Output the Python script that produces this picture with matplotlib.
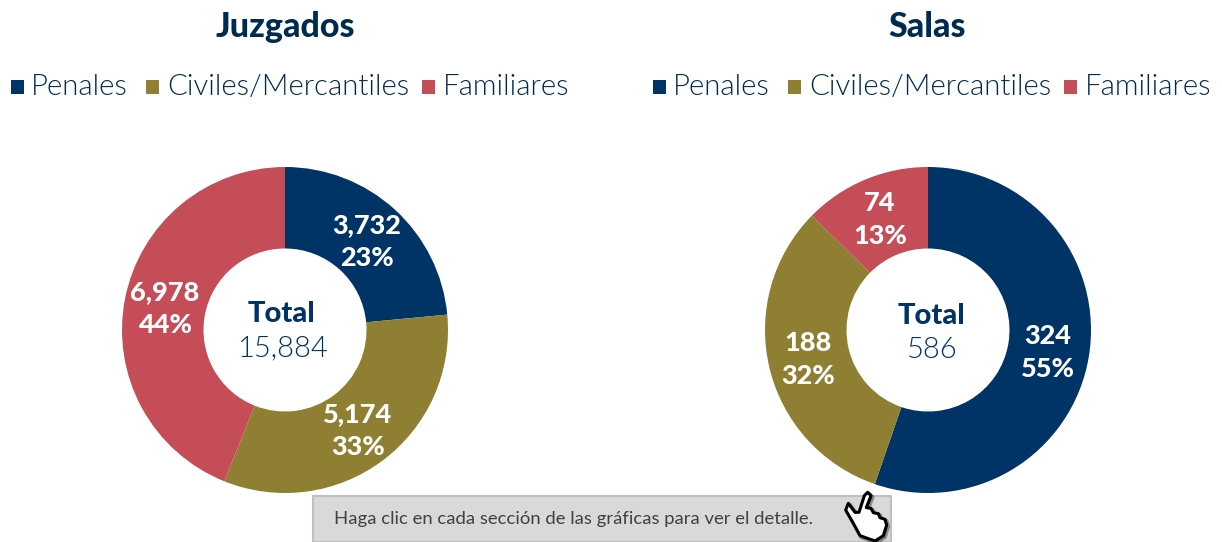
import matplotlib
matplotlib.use("Agg")
import matplotlib.pyplot as plt
from matplotlib.patches import Rectangle, Polygon

W, H = 1222, 542
FONT = "Lato"
plt.rcParams["font.family"] = [FONT, "DejaVu Sans"]

categories = ["Penales", "Civiles/Mercantiles", "Familiares"]
colors = ["#003366", "#8F7F32", "#C44D58"]
juzgados_values = [3732, 5174, 6978]
juzgados_pct = ["23%", "33%", "44%"]
juzgados_total = "15,884"
salas_values = [324, 188, 74]
salas_pct = ["55%", "32%", "13%"]
salas_total = "586"
note = "Haga clic en cada sección de las gráficas para ver el detalle."

fig = plt.figure(figsize=(W / 100, H / 100), dpi=100, facecolor="white")
ov = fig.add_axes([0, 0, 1, 1], zorder=5)
ov.set_xlim(0, W)
ov.set_ylim(H, 0)
ov.axis("off")
ov.patch.set_alpha(0)


def donut(cx, cy, r, values):
    ax = fig.add_axes([(cx - r) / W, 1 - (cy + r) / H, 2 * r / W, 2 * r / H])
    ax.pie(values, colors=colors, startangle=90, counterclock=False, radius=1,
           wedgeprops=dict(width=0.5, linewidth=0))
    ax.set_xlim(-1, 1)
    ax.set_ylim(-1, 1)
    ax.set_aspect("equal")
    ax.axis("off")


donut(285, 330, 163, juzgados_values)
donut(928, 330, 163, salas_values)


def label(x, y, val, pct):
    ov.text(x, y - 16, f"{val:,}", color="white", fontsize=19.5, fontweight="black", ha="center", va="center")
    ov.text(x, y + 17, pct, color="white", fontsize=19.5, fontweight="black", ha="center", va="center")


for (x, y), v, p in zip([(367, 241), (358, 430), (165, 308)], juzgados_values, juzgados_pct):
    label(x, y, v, p)
for (x, y), v, p in zip([(1048, 352), (808, 359), (880, 219)], salas_values, salas_pct):
    label(x, y, v, p)

NAVY = "#002B50"
ov.text(285, 27, "Juzgados", color=NAVY, fontsize=24.5, fontweight="black", ha="center", va="center")
ov.text(927, 27, "Salas", color=NAVY, fontsize=24.5, fontweight="black", ha="center", va="center")

ov.text(281, 314, "Total", color="#003366", fontsize=21, fontweight="black", ha="center", va="center")
ov.text(282, 348, juzgados_total, color="#003366", fontsize=21, fontweight=300, ha="center", va="center")
ov.text(932, 316, "Total", color="#003366", fontsize=21, fontweight="black", ha="center", va="center")
ov.text(932, 350, salas_total, color="#003366", fontsize=21, fontweight=300, ha="center", va="center")


def legend(x_offset):
    sq = [11, 146, 422]
    tx = [31, 167, 443]
    for s, t, c, name in zip(sq, tx, colors, categories):
        ov.add_patch(Rectangle((s + x_offset, 80), 13, 14, fc=c, ec="none"))
        ov.text(t + x_offset, 87, name, color=NAVY, fontsize=21.2, fontweight=300, ha="left", va="center")


legend(0)
legend(642)

ov.add_patch(Rectangle((313, 496), 578, 46, fc="#D9D9D9", ec="#BFBFBF", lw=1.5))
ov.text(334, 519, note, color="#404040", fontsize=13.3, ha="left", va="center")

hand_zoom = [(98, 22), (108, 32), (94, 68), (108, 70), (115, 83), (130, 86), (135, 98), (150, 103),
             (155, 120), (145, 152), (120, 168), (75, 152), (55, 115), (32, 75), (40, 55), (60, 82),
             (72, 82), (88, 32)]
hand = [(835 + x / 3, 485 + y / 3) for x, y in hand_zoom]
shadow = [(x + 1.5, y + 1.5) for x, y in hand]
ov.add_patch(Polygon(shadow, closed=True, fc="#555555", ec="#555555", lw=3, joinstyle="round", alpha=0.6))
ov.add_patch(Polygon(hand, closed=True, fc="white", ec="black", lw=2.2, joinstyle="round"))

fig.savefig("out.png", dpi=100, facecolor="white")
